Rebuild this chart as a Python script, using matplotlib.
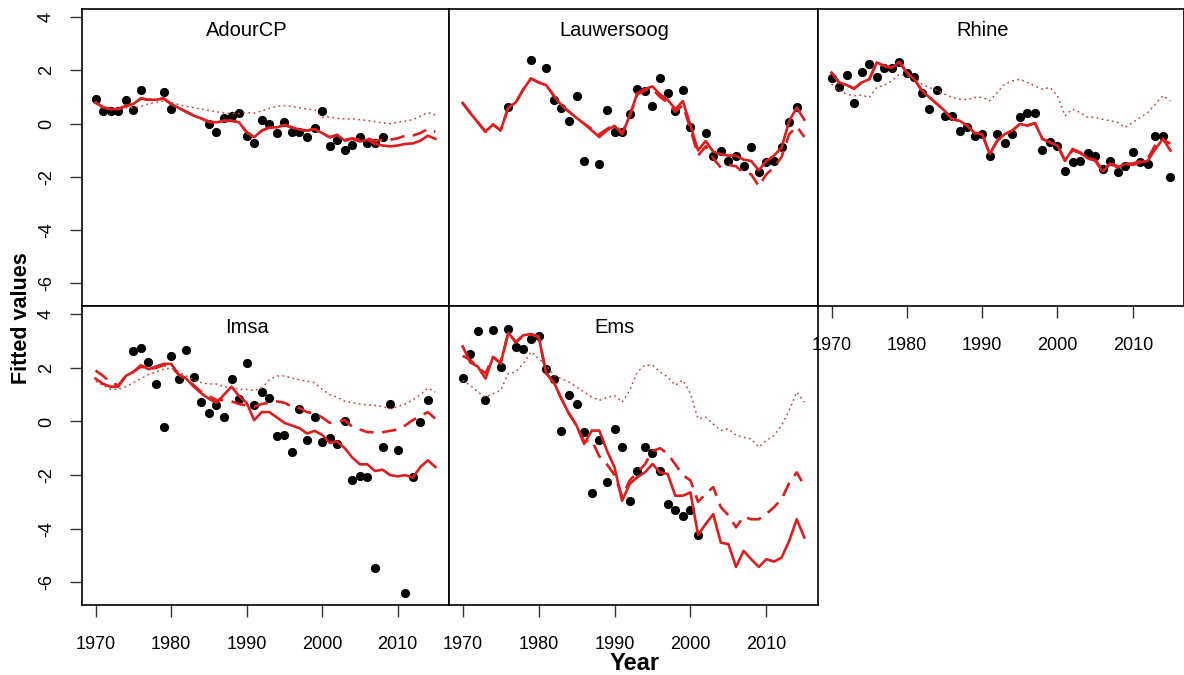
import numpy as np
import matplotlib
matplotlib.use("Agg")
import matplotlib.pyplot as plt

plt.rcParams['font.family'] = ['Liberation Sans', 'DejaVu Sans']

years = np.arange(1970, 2016)

# ---------------- AdourCP ----------------
adour_solid = [0.80, 0.61, 0.55, 0.55, 0.67, 0.74, 0.95, 0.90, 0.90, 0.95,
               0.74, 0.59, 0.45, 0.30, 0.20, 0.07, 0.05, 0.11, 0.11, 0.05,
               -0.32, -0.51, -0.26, -0.14, -0.14, -0.05, -0.14, -0.22, -0.26, -0.20,
               -0.35, -0.51, -0.42, -0.64, -0.57, -0.67, -0.60, -0.76, -0.82, -0.85,
               -0.82, -0.76, -0.74, -0.64, -0.45, -0.57]
adour_dashed = [0.80, 0.61, 0.55, 0.55, 0.67, 0.74, 0.95, 0.90, 0.90, 0.95,
                0.74, 0.59, 0.45, 0.30, 0.20, 0.07, 0.05, 0.11, 0.11, 0.05,
                -0.32, -0.51, -0.26, -0.14, -0.14, -0.05, -0.14, -0.22, -0.26, -0.20,
                -0.35, -0.51, -0.42, -0.60, -0.55, -0.60, -0.55, -0.65, -0.60, -0.60,
                -0.55, -0.45, -0.45, -0.35, -0.20, -0.30]
adour_dotted = [0.75, 0.65, 0.55, 0.55, 0.60, 0.60, 0.65, 0.75, 0.80, 0.85,
                0.80, 0.72, 0.65, 0.60, 0.55, 0.50, 0.45, 0.40, 0.38, 0.38,
                0.42, 0.40, 0.48, 0.58, 0.65, 0.68, 0.65, 0.60, 0.55, 0.52,
                0.25, 0.25, 0.20, 0.18, 0.18, 0.15, 0.12, 0.08, 0.03, 0.00,
                0.05, 0.10, 0.15, 0.28, 0.42, 0.33]
adour_obs_years = [1970, 1971, 1972, 1973, 1974, 1975, 1976, 1979, 1980, 1985,
                   1986, 1987, 1988, 1989, 1990, 1991, 1992, 1993, 1994, 1995,
                   1996, 1997, 1998, 1999, 2000, 2001, 2002, 2003, 2004, 2005,
                   2006, 2007, 2008]
adour_obs = [0.91, 0.49, 0.47, 0.47, 0.90, 0.52, 1.26, 1.19, 0.54, -0.01,
             -0.32, 0.21, 0.30, 0.40, -0.45, -0.71, 0.14, -0.01, -0.36, 0.05,
             -0.32, -0.30, -0.51, -0.18, 0.46, -0.85, -0.61, -0.97, -0.79, -0.49,
             -0.72, -0.72, -0.51]

# ---------------- Lauwersoog ----------------
lauw_solid = [0.78, 0.40, 0.05, -0.30, -0.03, -0.25, 0.60, 0.80, 1.30, 1.70,
              1.55, 1.45, 1.05, 0.70, 0.45, 0.22, 0.00, -0.25, -0.50, -0.25,
              -0.08, -0.40, 0.30, 1.15, 1.30, 1.40, 1.10, 0.90, 0.55, 0.85,
              -0.07, -1.00, -0.65, -1.05, -1.15, -1.20, -1.20, -1.35, -1.40, -1.75,
              -1.40, -1.20, -0.90, 0.10, 0.60, 0.15]
lauw_dashed = [0.78, 0.40, 0.05, -0.30, -0.03, -0.25, 0.60, 0.80, 1.30, 1.70,
               1.55, 1.45, 1.05, 0.70, 0.45, 0.22, 0.00, -0.20, -0.40, -0.20,
               -0.05, -0.35, 0.30, 1.10, 1.25, 1.30, 1.00, 0.80, 0.45, 0.70,
               -0.20, -1.20, -0.85, -1.30, -1.65, -1.55, -1.60, -1.85, -1.90, -2.35,
               -1.90, -1.65, -1.25, -0.40, -0.10, -0.50]
lauw_dotted = [0.78, 0.40, 0.05, -0.30, -0.03, -0.25, 0.60, 0.80, 1.30, 1.70,
               1.55, 1.45, 1.05, 0.70, 0.45, 0.22, 0.00, -0.25, -0.50, -0.25,
               -0.08, -0.40, 0.30, 1.15, 1.30, 1.40, 1.10, 0.90, 0.55, 0.85,
               -0.07, -1.00, -0.65, -1.05, -1.15, -1.20, -1.20, -1.35, -1.40, -1.75,
               -1.40, -1.20, -0.90, 0.10, 0.60, 0.15]
lauw_obs_years = [1976, 1979, 1981, 1982, 1983, 1984, 1985, 1986, 1988, 1989,
                  1990, 1991, 1992, 1993, 1994, 1995, 1996, 1997, 1998, 1999,
                  2000, 2002, 2003, 2004, 2005, 2006, 2007, 2008, 2009, 2010,
                  2011, 2012, 2013, 2014]
lauw_obs = [0.61, 2.40, 2.11, 0.90, 0.59, 0.12, 1.05, -1.40, -1.52, 0.51,
            -0.30, -0.30, 0.36, 1.30, 1.24, 0.67, 1.70, 1.14, 0.49, 1.27,
            -0.11, -0.35, -1.22, -1.02, -1.39, -1.22, -1.60, -0.89, -1.80, -1.45,
            -1.39, -0.89, 0.07, 0.61]

# ---------------- Rhine ----------------
rhine_solid = [1.92, 1.55, 1.45, 1.32, 1.55, 1.67, 2.30, 2.17, 2.10, 2.32,
               1.92, 1.67, 1.24, 0.99, 0.74, 0.49, 0.17, 0.11, -0.07, -0.35,
               -0.39, -1.14, -0.64, -0.39, -0.26, -0.01, -0.07, 0.02, -0.57, -0.70,
               -0.82, -1.39, -0.95, -1.07, -1.30, -1.39, -1.80, -1.51, -1.64, -1.51,
               -1.55, -1.45, -1.39, -0.95, -0.57, -1.01]
rhine_dashed = [1.92, 1.55, 1.45, 1.32, 1.55, 1.67, 2.30, 2.17, 2.10, 2.32,
                1.92, 1.67, 1.24, 0.99, 0.74, 0.49, 0.17, 0.11, -0.07, -0.35,
                -0.39, -1.14, -0.64, -0.39, -0.26, -0.01, -0.07, 0.02, -0.57, -0.70,
                -0.82, -1.39, -1.00, -1.10, -1.30, -1.35, -1.75, -1.50, -1.60, -1.50,
                -1.50, -1.40, -1.30, -0.80, -0.60, -0.75]
rhine_dotted = [1.49, 1.24, 1.11, 1.05, 1.07, 0.99, 1.36, 1.45, 1.61, 1.86,
                1.80, 1.67, 1.49, 1.36, 1.24, 1.11, 0.99, 0.92, 0.90, 0.99,
                0.99, 0.86, 1.17, 1.49, 1.61, 1.67, 1.55, 1.42, 1.30, 1.36,
                1.05, 0.30, 0.55, 0.42, 0.24, 0.24, 0.17, 0.11, 0.05, -0.14,
                0.05, 0.24, 0.42, 0.74, 1.05, 0.86]
rhine_obs_years = list(range(1970, 2016))
rhine_obs = [1.70, 1.39, 1.82, 0.77, 1.96, 2.26, 1.74, 2.11, 2.08, 2.30,
             1.92, 1.74, 1.17, 0.55, 1.26, 0.30, 0.30, -0.26, -0.14, -0.45,
             -0.39, -1.20, -0.39, -0.72, -0.39, 0.27, 0.39, 0.39, -0.99, -0.70,
             -0.82, -1.76, -1.45, -1.39, -1.10, -1.22, -1.70, -1.42, -1.82, -1.60,
             -1.07, -1.45, -1.51, -0.45, -0.47, -2.01]

# ---------------- Imsa ----------------
imsa_solid = [1.60, 1.40, 1.30, 1.30, 1.70, 1.85, 2.10, 1.95, 2.05, 2.15,
              2.15, 1.75, 1.60, 1.30, 1.05, 0.85, 0.70, 1.00, 1.30, 0.95,
              0.70, 0.05, 0.35, 0.35, 0.15, -0.05, -0.15, -0.25, -0.45, -0.35,
              -0.50, -0.80, -0.75, -1.00, -1.35, -1.60, -1.60, -1.85, -1.80, -2.00,
              -2.05, -2.00, -2.10, -1.70, -1.45, -1.70]
imsa_dashed = [1.90, 1.70, 1.45, 1.35, 1.70, 1.85, 2.05, 1.95, 2.00, 2.10,
               2.05, 1.75, 1.60, 1.35, 1.10, 0.95, 0.80, 0.80, 0.75, 0.65,
               0.60, 0.55, 0.65, 0.70, 0.75, 0.70, 0.55, 0.50, 0.35, 0.30,
               0.15, -0.05, 0.00, 0.05, -0.20, -0.30, -0.40, -0.40, -0.40, -0.35,
               -0.30, -0.15, 0.05, 0.20, 0.35, 0.10]
imsa_dotted = [1.50, 1.35, 1.20, 1.20, 1.30, 1.45, 1.60, 1.75, 1.85, 1.95,
               2.00, 1.85, 1.70, 1.55, 1.45, 1.40, 1.40, 1.30, 1.25, 1.20,
               1.20, 1.15, 1.25, 1.55, 1.70, 1.70, 1.62, 1.55, 1.50, 1.45,
               1.20, 1.00, 0.90, 0.75, 0.70, 0.65, 0.62, 0.60, 0.55, 0.48,
               0.55, 0.65, 0.80, 1.00, 1.25, 1.10]
imsa_obs_years = [1975, 1976, 1977, 1978, 1979, 1980, 1981, 1982, 1983, 1984,
                  1985, 1986, 1987, 1988, 1989, 1990, 1991, 1992, 1993, 1994,
                  1995, 1996, 1997, 1998, 1999, 2000, 2001, 2002, 2003, 2004,
                  2005, 2006, 2007, 2008, 2009, 2010, 2011, 2012, 2013, 2014]
imsa_obs = [2.62, 2.76, 2.22, 1.41, -0.21, 2.43, 1.60, 2.68, 1.66, 0.72,
            0.31, 0.60, 0.16, 1.60, 0.85, 2.20, 0.60, 1.10, 0.87, -0.56,
            -0.52, -1.15, 0.45, -0.71, 0.15, -0.77, -0.61, -0.85, 0.03, -2.18,
            -2.05, -2.08, -5.46, -0.96, 0.64, -1.05, -6.42, -2.06, -0.02, 0.79]

# ---------------- Ems ----------------
ems_solid = [2.80, 2.20, 2.05, 1.60, 2.41, 2.16, 3.31, 2.97, 3.22, 3.26,
             3.18, 1.79, 1.47, 0.85, 0.29, -0.15, -0.84, -0.34, -0.34, -1.09,
             -1.71, -2.96, -2.33, -2.08, -1.90, -1.59, -1.90, -1.96, -2.77, -2.77,
             -2.65, -4.23, -3.83, -3.46, -4.52, -4.58, -5.43, -4.83, -5.14, -5.43,
             -5.14, -5.23, -5.08, -4.46, -3.65, -4.33]
ems_dashed = [2.45, 2.30, 2.00, 1.80, 2.40, 2.20, 3.30, 2.95, 3.20, 3.25,
              3.15, 1.80, 1.45, 0.85, 0.30, -0.15, -0.75, -0.70, -1.30, -1.60,
              -2.00, -2.80, -2.20, -1.90, -1.60, -1.10, -1.00, -1.20, -1.60, -2.00,
              -2.20, -3.00, -2.70, -2.45, -3.20, -3.50, -3.95, -3.55, -3.65, -3.65,
              -3.45, -3.20, -2.90, -2.30, -1.90, -2.40]
ems_dotted = [1.54, 1.35, 1.10, 0.91, 1.04, 1.16, 1.79, 1.85, 2.16, 2.60,
              2.35, 2.10, 1.72, 1.60, 1.47, 1.29, 1.10, 0.91, 0.79, 0.89,
              0.97, 0.72, 1.16, 1.85, 2.10, 2.10, 1.85, 1.66, 1.35, 1.54,
              1.04, 0.10, 0.16, -0.09, -0.34, -0.27, -0.52, -0.59, -0.65, -0.96,
              -0.71, -0.52, -0.15, 0.41, 1.10, 0.72]
ems_obs_years = [1970, 1971, 1972, 1973, 1974, 1975, 1976, 1977, 1978, 1979,
                 1980, 1981, 1982, 1983, 1984, 1985, 1986, 1987, 1988, 1989,
                 1990, 1991, 1992, 1993, 1994, 1995, 1996, 1997, 1998, 1999,
                 2000, 2001]
ems_obs = [1.62, 2.53, 3.37, 0.79, 3.41, 2.03, 3.47, 2.78, 2.72, 3.06,
           3.18, 1.97, 1.60, -0.36, 0.97, 0.66, -0.40, -2.68, -0.69, -2.27,
           -0.29, -0.94, -2.96, -1.86, -0.94, -1.19, -1.86, -3.08, -3.31, -3.52,
           -3.31, -4.23]

stations = ["AdourCP", "Lauwersoog", "Rhine", "Imsa", "Ems"]
panel_data = {
    "AdourCP": (adour_solid, adour_dashed, adour_dotted, adour_obs_years, adour_obs),
    "Lauwersoog": (lauw_solid, lauw_dashed, lauw_dotted, lauw_obs_years, lauw_obs),
    "Rhine": (rhine_solid, rhine_dashed, rhine_dotted, rhine_obs_years, rhine_obs),
    "Imsa": (imsa_solid, imsa_dashed, imsa_dotted, imsa_obs_years, imsa_obs),
    "Ems": (ems_solid, ems_dashed, ems_dotted, ems_obs_years, ems_obs),
}
ytick_vals = [-6, -4, -2, 0, 2, 4]
xtick_vals = [1970, 1980, 1990, 2000, 2010]

W, H = 1184, 675
fig = plt.figure(figsize=(W / 100, H / 100), dpi=100)

col_left = [82, 449, 818]
col_w = [367, 369, 366]
row_top = [9, 306]
row_h = [297, 299]
positions = {"AdourCP": (0, 0), "Lauwersoog": (0, 1), "Rhine": (0, 2),
             "Imsa": (1, 0), "Ems": (1, 1)}

RED = '#dc1e1e'
DOT_RED = '#cc4444'

axes = {}
for name in ["AdourCP", "Lauwersoog", "Imsa", "Ems", "Rhine"]:
    r, c = positions[name]
    l = col_left[c] / W
    b = 1 - (row_top[r] + row_h[r]) / H
    ax = fig.add_axes([l, b, col_w[c] / W, row_h[r] / H])
    axes[name] = ax
    solid, dashed, dotted, oy, ov = panel_data[name]
    ax.plot(oy, ov, 'o', color='black', ms=5.6, zorder=2)
    ax.plot(years, dotted, color=DOT_RED, lw=1.1, ls=(0, (1.2, 2.2)), zorder=3)
    ax.plot(years, dashed, color=RED, lw=1.9, ls=(0, (5.5, 3.2)), zorder=4)
    ax.plot(years, solid, color=RED, lw=1.9, zorder=5)
    ax.set_xlim(1968.2, 2016.8)
    ax.set_ylim(-6.85, 4.31)
    ax.text(1990, 3.5, name, ha='center', va='center', fontsize=14.5)
    for s in ax.spines.values():
        s.set_linewidth(1.2)
        s.set_color('black')
    ax.tick_params(direction='out', length=8.5, width=1.0, labelsize=13, color='#333333')
    if c == 0:
        ax.set_yticks(ytick_vals)
        ax.set_yticklabels([str(v) for v in ytick_vals], rotation=90, va='center')
        ax.tick_params(axis='y', pad=11)
    else:
        ax.set_yticks([])
    if name in ("Imsa", "Ems", "Rhine"):
        ax.set_xticks(xtick_vals)
        ax.set_xticklabels([str(v) for v in xtick_vals])
        ax.tick_params(axis='x', pad=14)
        for lab in ax.get_xticklabels():
            lab.set_clip_on(False)
    else:
        ax.set_xticks([])

fig.text(22 / W, 1 - 318 / H, "Fitted values", rotation=90, ha='center', va='center',
         fontsize=15.5, fontweight='bold')
fig.text(635 / W, 1 - 663 / H, "Year", ha='center', va='center',
         fontsize=17, fontweight='bold')

fig.savefig("out.png", dpi=100, facecolor='white')
